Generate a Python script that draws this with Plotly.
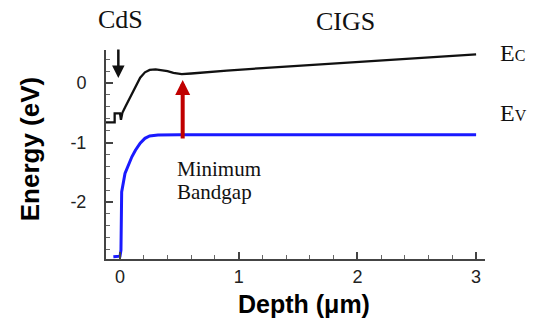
import plotly.graph_objects as go

# Conduction band (E_C)
ec_depth = [-0.118, -0.045, -0.045, 0.0, 0.008, 0.02, 0.045, 0.07, 0.1, 0.13, 0.17, 0.21, 0.25, 0.3,
            0.35, 0.4, 0.45, 0.52, 0.6, 0.7, 0.9, 1.2, 1.6, 2.0, 2.4, 2.8, 3.0]
ec_energy = [-0.66, -0.66, -0.51, -0.51, -0.62, -0.5, -0.4, -0.3, -0.17, -0.05, 0.09, 0.18, 0.22, 0.23,
             0.22, 0.2, 0.17, 0.15, 0.16, 0.18, 0.21, 0.25, 0.3, 0.35, 0.4, 0.45, 0.48]

# Valence band (E_V)
ev_depth = [-0.056, 0.0, 0.008, 0.014, 0.042, 0.07, 0.1, 0.13, 0.17, 0.21, 0.25, 0.32, 0.5, 1.0, 2.0, 3.0]
ev_energy = [-2.92, -2.91, -2.81, -1.83, -1.52, -1.37, -1.24, -1.13, -1.01, -0.93, -0.89, -0.875,
             -0.87, -0.87, -0.87, -0.87]

x_tickvals = [0, 1, 2, 3]
x_ticktext = ["0", "1", "2", "3"]
y_tickvals = [0, -1, -2]
y_ticktext = ["0", "-1", "-2"]

SERIF = "Liberation Serif"
SANS = "Liberation Sans"

fig = go.Figure()
fig.add_trace(go.Scatter(x=ec_depth, y=ec_energy, mode="lines",
                         line=dict(color="#111111", width=2.3), showlegend=False))
fig.add_trace(go.Scatter(x=ev_depth, y=ev_energy, mode="lines",
                         line=dict(color="#1a1aff", width=3), showlegend=False))

annotations = [
    dict(x=0.037, y=1.144, text="CdS", xref="paper", yref="paper", showarrow=False,
         font=dict(family=SERIF, size=26, color="#111"), xanchor="center", yanchor="middle"),
    dict(x=0.631, y=1.138, text="CIGS", xref="paper", yref="paper", showarrow=False,
         font=dict(family=SERIF, size=26, color="#111"), xanchor="center", yanchor="middle"),
    dict(x=1.034, y=0.985, text='E<span style="font-size:16px">C</span>', xref="paper", yref="paper",
         showarrow=False, font=dict(family=SERIF, size=24, color="#111"), xanchor="left", yanchor="middle"),
    dict(x=1.034, y=0.697, text='E<span style="font-size:16px">V</span>', xref="paper", yref="paper",
         showarrow=False, font=dict(family=SERIF, size=24, color="#111"), xanchor="left", yanchor="middle"),
    dict(x=0.475, y=-1.444, text="Minimum", xref="x", yref="y", showarrow=False, borderpad=0,
         font=dict(family=SERIF, size=21, color="#111"), xanchor="left", yanchor="middle"),
    dict(x=0.475, y=-1.838, text="Bandgap", xref="x", yref="y", showarrow=False, borderpad=0,
         font=dict(family=SERIF, size=21, color="#111"), xanchor="left", yanchor="middle"),
    # arrows
    dict(x=-0.014, y=0.084, ax=-0.014, ay=0.588, xref="x", yref="y", axref="x", ayref="y",
         text="", showarrow=True, arrowhead=2, arrowsize=1.0, arrowwidth=2.5, arrowcolor="#111"),
    dict(x=0.528, y=0.05, ax=0.528, ay=-0.958, xref="x", yref="y", axref="x", ayref="y",
         text="", showarrow=True, arrowhead=2, arrowsize=0.75, arrowwidth=4, arrowcolor="#c00000"),
    # axis titles
    dict(x=-0.2, y=0.526, xref="paper", yref="paper", text="<b>Energy (eV)</b>", textangle=-90,
         showarrow=False, font=dict(family=SANS, size=26, color="#000"), xanchor="center", yanchor="middle"),
    dict(x=0.522, y=-0.215, xref="paper", yref="paper", text="<b>Depth (μm)</b>",
         showarrow=False, font=dict(family=SANS, size=25, color="#000"), xanchor="center", yanchor="middle"),
]

fig.update_layout(
    width=533, height=322,
    margin=dict(l=106, r=48, t=50, b=63),
    paper_bgcolor="white", plot_bgcolor="white",
    annotations=annotations,
    xaxis=dict(range=[-0.118, 3.075], showgrid=False, zeroline=False, showline=True,
               linecolor="#444", linewidth=2, ticks="inside", ticklen=7, tickwidth=1.5, tickcolor="#444",
               tickvals=x_tickvals, ticktext=x_ticktext, ticklabelstandoff=0,
               tickfont=dict(family=SANS, size=18, color="#222"),
               minor=dict(dtick=0.2, tick0=0, ticks="inside", ticklen=4, tickwidth=1, tickcolor="#666")),
    yaxis=dict(range=[-2.958, 0.555], showgrid=False, zeroline=False, showline=True,
               linecolor="#444", linewidth=2, ticks="inside", ticklen=7, tickwidth=1.5, tickcolor="#444",
               tickvals=y_tickvals, ticktext=y_ticktext, ticklabelstandoff=14,
               tickfont=dict(family=SANS, size=18, color="#222"),
               minor=dict(dtick=0.2, tick0=0, ticks="inside", ticklen=4, tickwidth=1, tickcolor="#666")),
)

fig.write_html("out.html")
